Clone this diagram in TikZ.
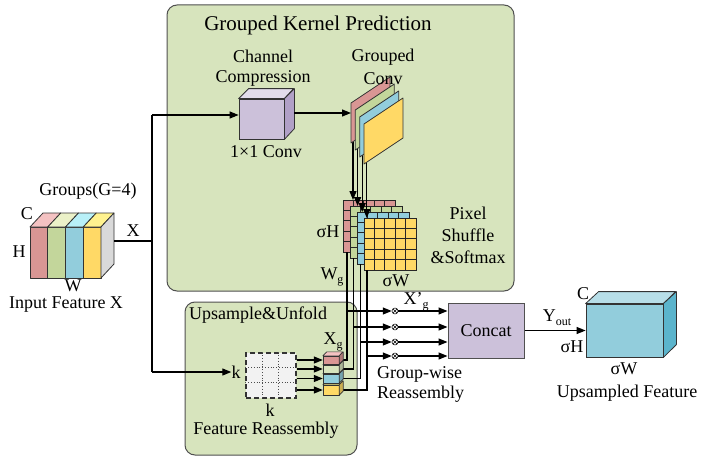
\documentclass[tikz,border=0pt]{standalone}
\usepackage{fontspec}
\setmainfont{Liberation Serif}
\usetikzlibrary{arrows.meta,calc}
\definecolor{boxgreen}{HTML}{D7E4BD}
\definecolor{boxedge}{HTML}{505050}
\definecolor{lav}{HTML}{CCC1DA}
\definecolor{lavtop}{HTML}{E2DCEB}
\definecolor{lavside}{HTML}{B1A0C7}
\definecolor{cred}{HTML}{D99694}
\definecolor{credt}{HTML}{F4C2C2}
\definecolor{cgrn}{HTML}{C3D69B}
\definecolor{cgrnl}{HTML}{D7E4BD}
\definecolor{cgrnt}{HTML}{EBF1C8}
\definecolor{cblu}{HTML}{92CDDC}
\definecolor{cblut}{HTML}{B8F0F8}
\definecolor{cyel}{HTML}{FFD966}
\definecolor{cyelt}{HTML}{FFF28F}
\definecolor{cgray}{HTML}{D9D9D9}
\definecolor{outtop}{HTML}{B7DEE8}
\definecolor{outside}{HTML}{5BB4CC}
\newcommand\lblfont{\fontsize{18}{20}\selectfont}
\newcommand\subg[1]{\raisebox{-0.45ex}{\fontsize{12}{12}\selectfont #1}}
\begin{document}
\begin{tikzpicture}[x=1pt,y=-1pt,
  every node/.style={font=\lblfont, inner sep=0pt},
  greenbox/.style={draw=boxedge, fill=boxgreen, rounded corners=10pt, line width=1pt},
  arr/.style={line width=1.2pt, -{Triangle[length=9pt,width=7pt]}},
  wire/.style={line width=1.2pt},
  edge/.style={draw=black!80, line width=0.8pt, line join=round},
  otimes/.style={circle, draw, line width=0.5pt, minimum size=6pt, inner sep=0pt, fill=white,
    path picture={\draw[line width=0.4pt] (path picture bounding box.south west) -- (path picture bounding box.north east)
      (path picture bounding box.north west) -- (path picture bounding box.south east);}}
]
\useasboundingbox (0,0) rectangle (701,460);
\fill[white] (0,0) rectangle (701,460);

% ---------- boxes ----------
\draw[greenbox] (167,5) rectangle (514,291);
\draw[greenbox] (185,302) rectangle (357,455);
\node[font=\fontsize{21}{24}\selectfont] (title) at (318,25) {Grouped Kernel Prediction};
\node (upt) at (258,315) {Upsample\&Unfold};

% ---------- input feature ----------
\foreach \i/\cf/\ct in {0/cred/credt,1/cgrn/cgrnt,2/cblu/cblut,3/cyel/cyelt}{
  \pgfmathsetmacro\xa{30+17.75*\i}
  \pgfmathsetmacro\xb{30+17.75*(\i+1)}
  \filldraw[edge, fill=\cf] (\xa,227) rectangle (\xb,278);
  \filldraw[edge, fill=\ct] (\xa,227) -- (\xa+13,213) -- (\xb+13,213) -- (\xb,227) -- cycle;
}
\filldraw[edge, fill=cgray] (101,227) -- (114,213) -- (114,264) -- (101,278) -- cycle;
\coordinate (inX) at (114,241);
\node (grp) at (88,191) {Groups(G=4)};
\node (lc) at (27,214) {C};
\node (lh) at (19,252) {H};
\node (lw) at (73,286) {W};
\node (inl) at (66,305) {Input Feature X};

% ---------- X split ----------
\coordinate (split) at (152,241);
\coordinate (vtop) at (152,115);
\coordinate (vbot) at (152,372);
\draw[wire] (inX) -- (split);
\node (lx) at (133,231) {X};
\draw[wire] (vtop) -- (vbot);

% ---------- 1x1 conv ----------
\node[draw=black!80, line width=0.8pt, fill=lav, minimum width=45pt, minimum height=40pt] (conv) at (261.5,119) {};
\filldraw[edge, fill=lavtop] (conv.north west) -- ++(10,-10) -- ++(45,0) -- (conv.north east) -- cycle;
\filldraw[edge, fill=lavside] (conv.north east) -- ++(10,-10) -- ++(0,40) -- (conv.south east) -- cycle;
\draw[arr] (vtop) -- (conv.west |- vtop);
\node (cc1) at (263,56) {Channel};
\node (cc2) at (263,78) {Compression};
\node (c11) at (266,152) {1×1 Conv};

% ---------- kernel grids ----------
\foreach \k/\c in {0/cred,1/cgrn,2/cblu,3/cyel}{
  \pgfmathsetmacro\gx{343+7*\k}
  \pgfmathsetmacro\gy{200+6*\k}
  \filldraw[fill=\c, draw=black!85, line width=0.7pt] (\gx,\gy) rectangle ++(52,52);
  \foreach \i in {1,...,4}{
    \draw[black!85, line width=0.7pt] (\gx+10.4*\i,\gy) -- ++(0,52) (\gx,\gy+10.4*\i) -- ++(52,0);
  }
}

% ---------- grouped conv -> grids ----------
\coordinate (convout) at (294,113);
\coordinate (gcin) at (351,113);
\draw[arr] (convout) -- (gcin);
\foreach \k in {0,...,3}{
  \pgfmathsetmacro\lx{353+4.6*\k}
  \pgfmathsetmacro\ly{138+7*\k}
  \pgfmathsetmacro\ty{200+6*\k}
  \coordinate (gcb\k) at (\lx,\ly);
  \coordinate (kgt\k) at (\lx,\ty);
  \draw[arr] (gcb\k) -- (kgt\k);
}
\foreach \k/\c in {0/cred,1/cgrn,2/cblu,3/cyel}{
  \pgfmathsetmacro\dx{-13+4.33*\k}
  \pgfmathsetmacro\dy{-21+7*\k}
  \filldraw[edge, fill=\c] (364+\dx,124+\dy) -- (403+\dx,98+\dy) -- (403+\dx,138+\dy) -- (364+\dx,164+\dy) -- cycle;
}
\node (gc1) at (383,57) {Grouped};
\node (gc2) at (383,79) {Conv};

\node (lsh) at (328,232) {σH};
\node (lwg) at (332,277) {W\subg{g}};
\node (lsw) at (396,281) {σW};
\node (ps1) at (468,213) {Pixel};
\node (ps2) at (468,235) {Shuffle};
\node (ps3) at (468,257) {\&Softmax};

% ---------- unfold ----------
\node[draw=black!80, dash pattern=on 5pt off 3pt, line width=1.2pt, fill=black!5, minimum width=50pt, minimum height=45pt] (dg) at (271,375.5) {};
\draw[black!70, dotted, line width=0.8pt] ($(dg.north west)+(16.7,0)$) -- ($(dg.south west)+(16.7,0)$)
  ($(dg.north west)+(33.3,0)$) -- ($(dg.south west)+(33.3,0)$)
  ($(dg.north west)+(0,15)$) -- ($(dg.north east)+(0,15)$)
  ($(dg.north west)+(0,30)$) -- ($(dg.north east)+(0,30)$);
\node (kl) at (236,372) {k};
\node (kb) at (270,410) {k};
\node (fr) at (266,430) {Feature Reassembly};
\draw[arr] (vbot) -- (kl.west);

% ---------- Xg cubes (front nodes) ----------
\node[minimum width=16pt, minimum height=8pt] (xg0) at (331,360) {};
\node[minimum width=16pt, minimum height=8pt] (xg1) at (331,369) {};
\node[minimum width=16pt, minimum height=9pt] (xg2) at (331,378.5) {};
\node[minimum width=16pt, minimum height=10pt] (xg3) at (331,390) {};

% ---------- wires ----------
\node[minimum width=76pt, minimum height=55pt, draw=boxedge, fill=lav, line width=1pt] (concat) at (486,330.5) {Concat};
\foreach \k/\hy in {0/311, 1/327, 2/342, 3/356}{
  \pgfmathsetmacro\wx{347+6.67*\k}
  \pgfmathsetmacro\gb{252+6*\k}
  \coordinate (kb\k) at (\wx,\gb);
  \coordinate (jn\k) at (\wx,\hy);
  \coordinate (cr\k) at (xg\k.east -| kb\k);
  \node[otimes] (ot\k) at (395,\hy) {};
  \draw[wire] (kb\k) -- (cr\k) -- (xg\k.east);
  \draw[arr] (jn\k) -- (ot\k.west);
  \draw[arr] (ot\k.east) -- (concat.west |- ot\k);
  \draw[arr] (dg.east |- xg\k) -- (xg\k.west);
}
\foreach \k/\cf/\ct in {3/cyel/cyelt, 2/cblu/cblut, 1/cgrnl/cgrnt, 0/cred/credt}{
  \filldraw[edge, line width=0.6pt, fill=\cf] (xg\k.north west) rectangle (xg\k.south east);
  \filldraw[edge, line width=0.6pt, fill=\ct] (xg\k.north west) -- ++(4,-4) -- ++(16,0) -- (xg\k.north east) -- cycle;
  \filldraw[edge, line width=0.6pt, fill=\cf!80!black] (xg\k.north east) -- ++(4,-4) -- ($(xg\k.south east)+(4,-4)$) -- (xg\k.south east) -- cycle;
}
\node (lxg) at (333,342) {X\subg{g}};
\node (lxpg) at (416,302) {X’\subg{g}};
\node[align=left, anchor=north west] (gwr) at (377,366) {Group-wise\\Reassembly};

% ---------- output ----------
\node[draw=black!80, line width=0.8pt, fill=cblu, minimum width=77pt, minimum height=53pt] (outc) at (624.5,330.5) {};
\filldraw[edge, fill=outtop] (outc.north west) -- ++(13,-12) -- ++(77,0) -- (outc.north east) -- cycle;
\filldraw[edge, fill=outside] (outc.north east) -- ++(13,-12) -- ++(0,53) -- (outc.south east) -- cycle;
\draw[arr] (concat.east) -- (outc.west);
\node (lyo) at (557,318) {Y\subg{out}};
\node (losh) at (572,347) {σH};
\node (loc) at (583,294) {C};
\node (losw) at (624,369) {σW};
\node (luf) at (627,393) {Upsampled Feature};
\end{tikzpicture}
\end{document}
